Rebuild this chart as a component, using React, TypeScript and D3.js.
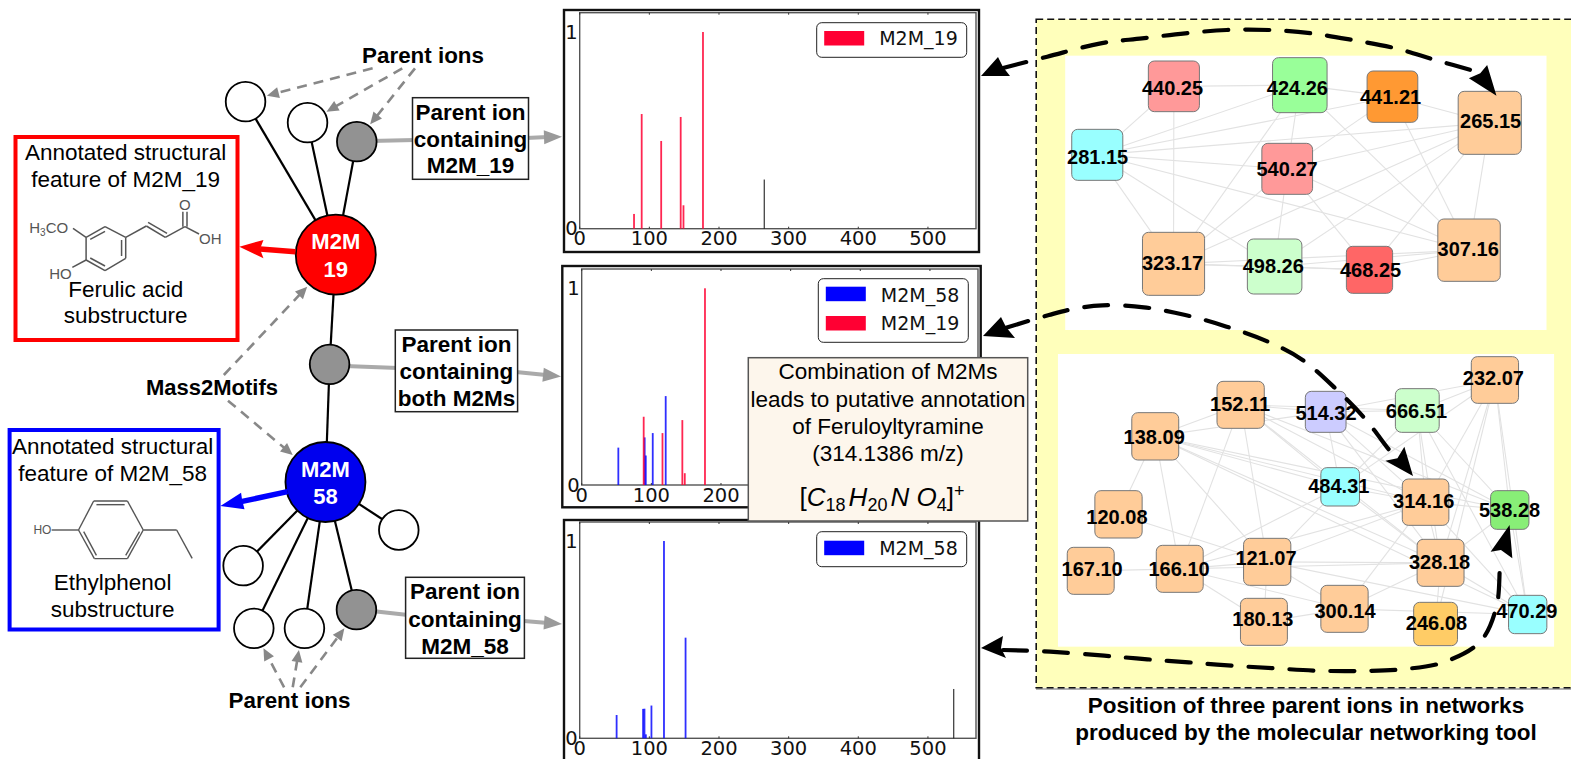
import React from "react";
import * as d3 from "d3";

// ---------- spectra values: [m/z, relative intensity] ----------
const spectrum19Fragments: [number, number][] = [[78, 0.075], [89, 0.583], [117, 0.446], [145, 0.568], [149, 0.119], [177, 1]];
const spectrum19Other: [number, number][] = [[265, 0.25]];
const spectrumBoth19: [number, number][] = [[89, 0.347], [116, 0.264], [144.5, 0.33], [148, 0.06], [177, 1]];
const spectrumBoth58: [number, number][] = [[52.6, 0.19], [90.4, 0.242], [92, 0.15], [102, 0.264], [120.6, 0.452]];
const spectrum58Fragments: [number, number][] = [[53, 0.118], [91, 0.149], [93, 0.15], [95, 0.02], [103, 0.166], [121, 1], [152, 0.51]];
const spectrum58Other: [number, number][] = [[537, 0.25]];
const xTickValues = [0, 100, 200, 300, 400, 500];
const yTickValues = [0, 1];
const MZ_MAX = 569;

// ---------- network 1 ----------
const net1Names = ["440.25", "424.26", "441.21", "265.15", "281.15", "540.27", "323.17", "498.26", "468.25", "307.16"];
const net1Colors = ["#ff9999", "#99ff99", "#ff9933", "#ffcc99", "#99ffff", "#ff9999", "#ffcc99", "#ccffcc", "#ff6666", "#ffcc99"];
const net1Boxes = [[343, 491, 153, 305], [703, 861, 143, 308], [977, 1124, 183, 337], [1241, 1424, 244, 433], [121, 269, 358, 511], [672, 819, 400, 553], [326, 506, 667, 856], [630, 788, 687, 852], [917, 1051, 709, 850], [1182, 1363, 627, 814]];
const net1Labels = [[413, 235], [775, 235], [1045, 262], [1335, 333], [196, 441], [745, 478], [413, 760], [705, 768], [987, 780], [1270, 717]];
const net1Edges = ["440.25-424.26", "440.25-281.15", "440.25-323.17", "424.26-441.21", "424.26-281.15", "424.26-540.27", "424.26-323.17", "424.26-307.16", "441.21-265.15", "441.21-281.15", "441.21-540.27", "441.21-307.16", "265.15-281.15", "265.15-540.27", "265.15-323.17", "265.15-498.26", "265.15-468.25", "265.15-307.16", "281.15-540.27", "281.15-307.16", "281.15-498.26", "281.15-323.17", "540.27-323.17", "540.27-498.26", "540.27-468.25", "540.27-307.16", "323.17-498.26", "323.17-468.25", "323.17-307.16", "498.26-468.25", "498.26-307.16", "468.25-307.16"];

// ---------- network 2 ----------
const net2Names = ["232.07", "152.11", "514.32", "666.51", "138.09", "484.31", "314.16", "538.28", "120.08", "328.18", "167.10", "166.10", "121.07", "300.14", "180.13", "246.08", "470.29"];
const net2Colors = ["#ffcc99", "#ffcc99", "#ccccff", "#ccffcc", "#ffcc99", "#99ffff", "#ffcc99", "#88ee77", "#ffcc99", "#ffcc99", "#ffcc99", "#ffcc99", "#ffcc99", "#ffcc99", "#ffcc99", "#ffcc66", "#99ffff"];
const net2Boxes = [[1279, 1416, 50, 190], [542, 679, 124, 265], [798, 916, 154, 277], [1059, 1186, 146, 277], [295, 431, 218, 360], [843, 955, 383, 498], [1079, 1214, 417, 556], [1335, 1446, 452, 568], [188, 325, 452, 594], [1122, 1258, 598, 739], [108, 244, 622, 763], [366, 502, 616, 757], [619, 756, 595, 736], [843, 980, 736, 877], [610, 746, 775, 916], [1112, 1239, 787, 917], [1387, 1498, 766, 881]];
const net2Labels = [[1343, 115], [609, 193], [858, 218], [1120, 213], [360, 291], [895, 438], [1141, 483], [1390, 510], [252, 530], [1187, 666], [180, 687], [432, 687], [684, 654], [913, 813], [675, 837], [1178, 850], [1440, 813]];
const net2Edges = ["138.09-152.11", "138.09-514.32", "138.09-484.31", "138.09-314.16", "138.09-538.28", "138.09-328.18", "138.09-120.08", "138.09-166.10", "138.09-121.07", "138.09-470.29", "152.11-514.32", "152.11-666.51", "152.11-314.16", "152.11-484.31", "152.11-166.10", "152.11-121.07", "152.11-538.28", "152.11-328.18", "514.32-666.51", "514.32-232.07", "514.32-484.31", "514.32-314.16", "514.32-328.18", "514.32-538.28", "666.51-232.07", "666.51-484.31", "666.51-314.16", "666.51-328.18", "666.51-538.28", "666.51-470.29", "232.07-314.16", "232.07-328.18", "232.07-538.28", "232.07-470.29", "232.07-484.31", "232.07-246.08", "484.31-314.16", "484.31-166.10", "484.31-121.07", "484.31-328.18", "314.16-538.28", "314.16-121.07", "314.16-166.10", "314.16-300.14", "314.16-328.18", "314.16-470.29", "538.28-328.18", "538.28-470.29", "120.08-121.07", "167.10-166.10", "166.10-121.07", "166.10-328.18", "166.10-300.14", "166.10-180.13", "121.07-328.18", "121.07-180.13", "121.07-300.14", "121.07-470.29", "300.14-180.13", "300.14-328.18", "300.14-470.29", "328.18-246.08", "328.18-470.29"];

// ---------- left graph ----------
const hub19 = { name: "19", x: 975, y: 674, color: "#ff0000" };
const hub58 = { name: "58", x: 945, y: 1356, color: "#0000ee" };
const hub19Leaves = [{ x: 713, y: 215, fill: "#fff" }, { x: 893, y: 278, fill: "#fff" }, { x: 1036, y: 335, fill: "#929292" }];
const sharedLeaf = { x: 957, y: 1003, fill: "#929292" };
const hub58Leaves = [{ x: 1158, y: 1500, fill: "#fff" }, { x: 706, y: 1607, fill: "#fff" }, { x: 737, y: 1795, fill: "#fff" }, { x: 884, y: 1795, fill: "#fff" }, { x: 1035, y: 1739, fill: "#929292" }];
const dashedPointers = [[1082, 115, 775, 197], [1168, 115, 948, 245], [1205, 115, 1075, 283], [650, 1035, 892, 770], [662, 1112, 850, 1275], [825, 1972, 765, 1855], [850, 1972, 868, 1860], [872, 1972, 1000, 1795]];
const ferulicBonds = [[250, 622, 305, 590], [305, 590, 365, 622], [365, 622, 365, 685], [365, 685, 305, 722], [305, 722, 250, 690], [250, 690, 250, 622], [262, 628, 305, 604], [353, 630, 353, 678], [305, 708, 262, 684], [212, 595, 250, 622], [210, 712, 250, 690], [365, 622, 425, 588], [425, 588, 480, 622], [430, 577, 485, 610], [480, 622, 537, 590], [531, 590, 531, 545], [543, 590, 543, 545], [537, 590, 578, 612]];
const ethylBonds = [[272, 1413, 370, 1413], [370, 1413, 416, 1500], [416, 1500, 370, 1586], [370, 1586, 274, 1586], [274, 1586, 228, 1500], [228, 1500, 272, 1413], [280, 1424, 362, 1424], [243, 1505, 280, 1576], [405, 1505, 365, 1576], [150, 1500, 228, 1500], [416, 1500, 513, 1500], [513, 1500, 558, 1585]];

// ---------- dashed black routes (network units) ----------
const route265 = [[-78, 174], [50, 140], [205, 100], [325, 85], [450, 70], [570, 60], [695, 60], [815, 70], [935, 90], [1060, 115], [1175, 150], [1295, 185]];
const route314 = [[-72, 954], [55, 915], [125, 897], [210, 886], [330, 892], [450, 915], [570, 950], [690, 995], [790, 1050], [890, 1140], [970, 1225], [1045, 1325], [1070, 1355]];
const route538 = [[-78, 1920], [58, 1925], [215, 1937], [340, 1948], [460, 1957], [585, 1967], [710, 1975], [830, 1982], [955, 1983], [1075, 1978], [1195, 1958], [1305, 1895], [1352, 1790], [1362, 1670], [1365, 1640]];
const headNet = [
  [[1352, 257], [1272, 205], [1305, 190], [1325, 165]],
  [[1110, 1398], [1030, 1352], [1065, 1345], [1085, 1310]],
  [[1390, 1545], [1335, 1625], [1365, 1620], [1398, 1645]],
];
const headPanels = [
  [[981, 76], [998, 57], [1003, 67], [1010, 76]],
  [[983, 336], [1001, 317], [1006, 327], [1015, 338]],
  [[981, 648], [1003, 636], [1001, 648], [1006, 658]],
];

const SANS = "'Liberation Sans', Arial, sans-serif";
const DEJA = "'DejaVu Sans', sans-serif";

const lx = d3.scaleLinear().domain([0, 1568]).range([0, 540]);
const ly = d3.scaleLinear().domain([0, 1050]).range([30, 380]);
const nx = d3.scaleLinear().domain([0, 1568]).range([1030, 1571]);
const ny = d3.scaleLinear().domain([0, 990]).range([10, 340]);
const ny2 = d3.scaleLinear().domain([0, 990]).range([340, 670]);
const routeLine = d3.line<number[]>().x((d) => nx(d[0])).y((d) => ny(d[1])).curve(d3.curveCatmullRom.alpha(0.5));

function headPts(tipX: number, tipY: number, fromX: number, fromY: number, len: number, half: number) {
  const a = Math.atan2(tipY - fromY, tipX - fromX);
  const bx = tipX - len * Math.cos(a);
  const by = tipY - len * Math.sin(a);
  const p = [[tipX, tipY], [bx - half * Math.sin(a), by + half * Math.cos(a)], [bx + half * Math.sin(a), by - half * Math.cos(a)]];
  return p.map((q) => q.join(",")).join(" ");
}

type Series = { data: [number, number][]; color: string; width: number };
type PanelProps = { fx: number; fy: number; fw: number; fh: number; x0: number; y0: number; y1: number; top: number; right: number; series: Series[]; legend: { label: string; color: string; y: number; base: number }[]; lx0: number; ly0: number; lh: number };

function Panel(p: PanelProps) {
  const x = d3.scaleLinear().domain([0, MZ_MAX]).range([p.x0, p.right]);
  const y = d3.scaleLinear().domain([0, 1]).range([p.y0, p.y1]);
  return (
    <g>
      <rect x={p.fx} y={p.fy} width={p.fw} height={p.fh} fill="#fff" stroke="#111" strokeWidth={2.4} />
      <rect x={p.x0} y={p.top} width={p.right - p.x0} height={p.y0 - p.top} fill="#fff" stroke="#555" strokeWidth={1.4} />
      {xTickValues.map((t) => (
        <g key={t}>
          <line x1={x(t)} x2={x(t)} y1={p.y0} y2={p.y0 - 2} stroke="#333" />
          <line x1={x(t)} x2={x(t)} y1={p.top} y2={p.top + 2} stroke="#333" />
          <text x={x(t)} y={p.y0 + 16.5} textAnchor="middle" fontFamily={DEJA} fontSize={19.5} fill="#111">{t}</text>
        </g>
      ))}
      {yTickValues.map((t) => (
        <text key={t} x={p.x0 - 2} y={y(t) + 6.5} textAnchor="end" fontFamily={DEJA} fontSize={19.5} fill="#111">{t}</text>
      ))}
      {p.series.map((s, i) =>
        s.data.map((d, j) => (
          <rect key={`${i}-${j}`} x={x(d[0]) - s.width / 2} y={y(d[1])} width={s.width} height={p.y0 - y(d[1])} fill={s.color} opacity={0.85} />
        ))
      )}
      <rect x={p.lx0} y={p.ly0} width={150} height={p.lh} rx={5} fill="#fff" stroke="#222" strokeWidth={1} />
      {p.legend.map((l) => (
        <g key={l.label}>
          <rect x={p.lx0 + 7.5} y={l.y} width={40} height={14.5} fill={l.color} />
          <text x={p.lx0 + 62.5} y={l.base} fontFamily={DEJA} fontSize={19} fill="#111">{l.label}</text>
        </g>
      ))}
    </g>
  );
}

function Network({ names, colors, boxes, labels, edges, yScale }: { names: string[]; colors: string[]; boxes: number[][]; labels: number[][]; edges: string[]; yScale: d3.ScaleLinear<number, number> }) {
  const centre = (n: string) => {
    const b = boxes[names.indexOf(n)];
    return [nx((b[0] + b[1]) / 2), yScale((b[2] + b[3]) / 2)];
  };
  return (
    <g>
      {edges.map((e) => {
        const [a, b] = e.split("-");
        const ca = centre(a), cb = centre(b);
        return <line key={e} x1={ca[0]} y1={ca[1]} x2={cb[0]} y2={cb[1]} stroke="#e2e2e2" strokeWidth={1.1} />;
      })}
      {names.map((n, i) => (
        <rect key={n} x={nx(boxes[i][0])} y={yScale(boxes[i][2])} width={nx(boxes[i][1]) - nx(boxes[i][0])} height={yScale(boxes[i][3]) - yScale(boxes[i][2])} rx={6} fill={colors[i]} stroke="#777" strokeWidth={1} />
      ))}
      {names.map((n, i) => (
        <text key={n} x={nx(labels[i][0])} y={yScale(labels[i][1]) + 7} textAnchor="middle" fontFamily={SANS} fontWeight="bold" fontSize={20} fill="#000">{n}</text>
      ))}
    </g>
  );
}

function Multiline({ lines, x, bases, size, bold, fill = "#000" }: { lines: string[]; x: number; bases: number[]; size: number; bold?: boolean; fill?: string }) {
  return (
    <>
      {lines.map((t, i) => (
        <text key={t + i} x={x} y={bases[i]} textAnchor="middle" fontFamily={SANS} fontWeight={bold ? "bold" : "normal"} fontSize={size} fill={fill}>{t}</text>
      ))}
    </>
  );
}

function LabelBox({ x, y, w, h, lines, bases }: { x: number; y: number; w: number; h: number; lines: string[]; bases: number[] }) {
  return (
    <g>
      <rect x={x} y={y} width={w} height={h} fill="#fff" stroke="#222" strokeWidth={1.5} />
      <Multiline lines={lines} x={x + w / 2} bases={bases} size={22.5} bold />
    </g>
  );
}

function Feed({ pts, tip }: { pts: number[][]; tip: number[] }) {
  return (
    <g>
      {pts.map((s, i) => <line key={i} x1={s[0]} y1={s[1]} x2={s[2]} y2={s[3]} stroke="#aaa" strokeWidth={4} />)}
      <polygon points={headPts(tip[0], tip[1], pts[pts.length - 1][0], pts[pts.length - 1][1], 18, 7)} fill="#9a9a9a" />
    </g>
  );
}

export default function App() {
  const leaf = (n: { x: number; y: number; fill: string }, i: number | string) => (
    <circle key={i} cx={lx(n.x)} cy={ly(n.y)} r={19.8} fill={n.fill} stroke="#000" strokeWidth={1.8} />
  );
  const toPoly = (q: number[][]) => q.map((p) => `${nx(p[0])},${ny(p[1])}`).join(" ");
  return (
    <svg width={1571} height={759} style={{ position: "absolute", left: 0, top: 0, display: "block" }}>
      <rect width={1571} height={759} fill="#fff" />

      {/* left graph */}
      {[...hub19Leaves, sharedLeaf].map((n, i) => <line key={"a" + i} x1={lx(n.x)} y1={ly(n.y)} x2={lx(hub19.x)} y2={ly(hub19.y)} stroke="#000" strokeWidth={2.2} />)}
      {[...hub58Leaves, sharedLeaf].map((n, i) => <line key={"b" + i} x1={lx(n.x)} y1={ly(n.y)} x2={lx(hub58.x)} y2={ly(hub58.y)} stroke="#000" strokeWidth={2.2} />)}
      <Feed pts={[[370, 141, 415, 140], [526, 138, 548, 137]]} tip={[562, 136.7]} />
      <Feed pts={[[345, 366, 398, 368], [516, 372, 546, 375]]} tip={[561, 376.5]} />
      <Feed pts={[[372, 611, 408, 615], [524, 621, 548, 623]]} tip={[562, 624]} />
      {hub19Leaves.map((n, i) => leaf(n, "l" + i))}
      {leaf(sharedLeaf, "s")}
      {hub58Leaves.map((n, i) => leaf(n, "m" + i))}
      {[hub19, hub58].map((h) => <circle key={h.name} cx={lx(h.x)} cy={ly(h.y)} r={40} fill={h.color} stroke="#000" strokeWidth={1.8} />)}
      <Multiline lines={["M2M", hub19.name]} x={lx(hub19.x)} bases={[249.3, 276.7]} size={22} bold fill="#fff" />
      <Multiline lines={["M2M", hub58.name]} x={lx(hub58.x)} bases={[477.3, 504]} size={22} bold fill="#fff" />

      {dashedPointers.map((d, i) => {
        const [a, b, c, e] = [lx(d[0]), ly(d[1]), lx(d[2]), ly(d[3])];
        const ang = Math.atan2(e - b, c - a);
        return (
          <g key={i}>
            <line x1={a} y1={b} x2={c - 10 * Math.cos(ang)} y2={e - 10 * Math.sin(ang)} stroke="#888" strokeWidth={2.6} strokeDasharray="10 7" />
            <polygon points={headPts(c, e, a, b, 12, 5.5)} fill="#888" />
          </g>
        );
      })}
      <Multiline lines={["Parent ions"]} x={423} bases={[63.3]} size={22.4} bold />
      <Multiline lines={["Mass2Motifs"]} x={212} bases={[395]} size={22} bold />
      <Multiline lines={["Parent ions"]} x={289.5} bases={[708.3]} size={22.4} bold />

      <LabelBox x={412.5} y={97.7} w={116} h={81.6} lines={["Parent ion", "containing", "M2M_19"]} bases={[120, 146.7, 173.3]} />
      <LabelBox x={395.3} y={330} w={122.3} h={81.7} lines={["Parent ion", "containing", "both M2Ms"]} bases={[352.3, 379, 405.5]} />
      <LabelBox x={405.6} y={577.3} w={118.8} h={81} lines={["Parent ion", "containing", "M2M_58"]} bases={[599.3, 626.7, 654]} />

      {/* red annotation */}
      <rect x={15.5} y={137} width={222} height={203} fill="#fff" stroke="#ff0000" strokeWidth={4} />
      <Multiline lines={["Annotated structural", "feature of M2M_19"]} x={125.7} bases={[160, 187.3]} size={22.5} />
      <Multiline lines={["Ferulic acid", "substructure"]} x={125.7} bases={[296.7, 323.3]} size={22.5} />
      {ferulicBonds.map((b, i) => <line key={i} x1={lx(b[0])} y1={ly(b[1])} x2={lx(b[2])} y2={ly(b[3])} stroke="#555" strokeWidth={1.5} />)}
      <text x={lx(85)} y={ly(608)} fontFamily={SANS} fontSize={15} fill="#555">H<tspan fontSize={10} dy={3}>3</tspan><tspan dy={-3}>CO</tspan></text>
      <text x={lx(143)} y={ly(748)} fontFamily={SANS} fontSize={15} fill="#555">HO</text>
      <text x={lx(578)} y={ly(642)} fontFamily={SANS} fontSize={15} fill="#555">OH</text>
      <text x={lx(537)} y={ly(540)} textAnchor="middle" fontFamily={SANS} fontSize={15} fill="#555">O</text>
      <line x1={lx(858)} y1={ly(665)} x2={lx(755)} y2={ly(657)} stroke="#ff0000" strokeWidth={5.5} />
      <polygon points={[[695, 650], [765, 630], [755, 657], [765, 685]].map((p) => `${lx(p[0])},${ly(p[1])}`).join(" ")} fill="#ff0000" />

      {/* blue annotation */}
      <rect x={9.6} y={430} width={209} height={199.5} fill="#fff" stroke="#0000ff" strokeWidth={4} />
      <Multiline lines={["Annotated structural", "feature of M2M_58"]} x={112.6} bases={[454, 480.7]} size={22.5} />
      <Multiline lines={["Ethylphenol", "substructure"]} x={112.6} bases={[590, 616.7]} size={22.5} />
      {ethylBonds.map((b, i) => <line key={i} x1={lx(b[0])} y1={ly(b[1])} x2={lx(b[2])} y2={ly(b[3])} stroke="#555" strokeWidth={1.4} />)}
      <text x={lx(97)} y={ly(1512)} fontFamily={SANS} fontSize={12} fill="#555">HO</text>
      <line x1={lx(835)} y1={ly(1385)} x2={lx(700)} y2={ly(1415)} stroke="#0000ff" strokeWidth={5.5} />
      <polygon points={[[640, 1428], [700, 1388], [703, 1410], [710, 1438]].map((p) => `${lx(p[0])},${ly(p[1])}`).join(" ")} fill="#0000ff" />

      {/* spectra */}
      <Panel fx={564} fy={10} fw={415} fh={242} x0={579.7} y0={228.7} y1={32} top={12.7} right={976}
        series={[{ data: spectrum19Other, color: "#111", width: 1.2 }, { data: spectrum19Fragments, color: "#ff0033", width: 1.8 }]}
        legend={[{ label: "M2M_19", color: "#ff0033", y: 31, base: 45 }]} lx0={816.7} ly0={22.7} lh={34.6} />
      <Panel fx={562.3} fy={266} fw={418.4} fh={241.3} x0={581.7} y0={485} y1={288.3} top={269} right={978}
        series={[{ data: spectrumBoth58, color: "#0a0aff", width: 1.8 }, { data: spectrumBoth19, color: "#ff0033", width: 1.8 }]}
        legend={[{ label: "M2M_58", color: "#0000ff", y: 286.7, base: 301.7 }, { label: "M2M_19", color: "#ff0033", y: 316, base: 330.3 }]} lx0={818.3} ly0={278.7} lh={63.6} />
      <Panel fx={564} fy={520} fw={415} fh={260} x0={579.7} y0={738.3} y1={541} top={522} right={976}
        series={[{ data: spectrum58Other, color: "#111", width: 1.2 }, { data: spectrum58Fragments, color: "#0a0aff", width: 1.8 }]}
        legend={[{ label: "M2M_58", color: "#0000ff", y: 540.7, base: 555 }]} lx0={816.7} ly0={531.7} lh={35} />

      {/* combination note */}
      <rect x={748.3} y={357.7} width={279.4} height={163.3} fill="#fdf6ec" stroke="#555" strokeWidth={1.5} />
      <Multiline lines={["Combination of M2Ms", "leads to putative annotation", "of Feruloyltyramine", "(314.1386 m/z)"]} x={888} bases={[379.3, 406.7, 434, 461]} size={22.5} />
      <text x={882} y={506} textAnchor="middle" fontFamily={SANS} fontSize={26} fill="#000">
        [<tspan fontStyle="italic">C</tspan><tspan fontSize={18} dy={5}>18</tspan>
        <tspan fontStyle="italic" dy={-5} dx={3}>H</tspan><tspan fontSize={18} dy={5}>20</tspan>
        <tspan fontStyle="italic" dy={-5} dx={3}>N</tspan> <tspan fontStyle="italic">O</tspan><tspan fontSize={18} dy={5}>4</tspan>
        <tspan dy={-5}>]</tspan><tspan fontSize={18} dy={-9}>+</tspan>
      </text>

      {/* networks */}
      <line x1={1036} y1={689} x2={1571} y2={689} stroke="#999" strokeWidth={1.5} />
      <rect x={1036.2} y={19.3} width={560} height={668.4} fill="#ffffbb" stroke="#111" strokeWidth={1.6} strokeDasharray="7 4" />
      <rect x={nx(102)} y={ny(137)} width={nx(1497) - nx(102)} height={ny(960) - ny(137)} fill="#fff" />
      <rect x={nx(81)} y={ny2(42)} width={nx(1519) - nx(81)} height={ny2(920) - ny2(42)} fill="#fff" />
      <Network names={net1Names} colors={net1Colors} boxes={net1Boxes} labels={net1Labels} edges={net1Edges} yScale={ny} />
      <Network names={net2Names} colors={net2Colors} boxes={net2Boxes} labels={net2Labels} edges={net2Edges} yScale={ny2} />
      {[route265, route314, route538].map((r, i) => (
        <path key={i} d={routeLine(r) as string} fill="none" stroke="#000" strokeWidth={4.2} strokeDasharray="24 17" strokeLinecap="round" />
      ))}
      {headNet.map((h, i) => <polygon key={i} points={toPoly(h)} fill="#000" />)}
      {headPanels.map((h, i) => <polygon key={i} points={h.map((p) => p.join(",")).join(" ")} fill="#000" />)}
      <Multiline lines={["Position of three parent ions in networks", "produced by the molecular networking tool"]} x={1306} bases={[713.3, 740]} size={22.5} bold />
    </svg>
  );
}
